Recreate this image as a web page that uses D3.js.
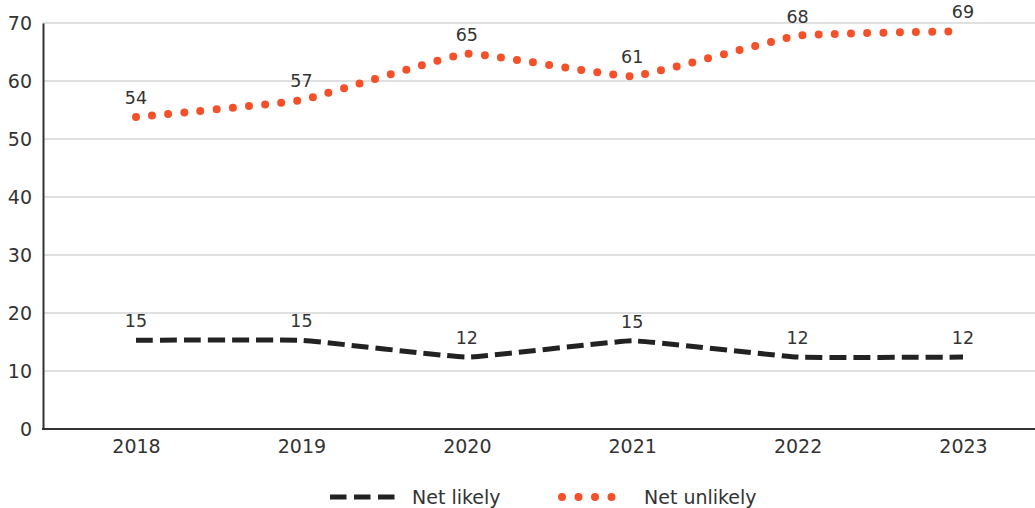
<!DOCTYPE html>
<html>
<head>
<meta charset="utf-8">
<script src="https://cdn.jsdelivr.net/npm/d3@7"></script>
<style>
  body { margin: 0; background: #fff; }
  text { font-family: "DejaVu Sans", sans-serif; fill: #333; }
</style>
</head>
<body>
<div id="chart"></div>
<script>
// data (labels show rounded values)
const years = ['2018', '2019', '2020', '2021', '2022', '2023'];
const netLikely = [15.3, 15.3, 12.4, 15.2, 12.4, 12.4];
const netUnlikely = [53.8, 56.7, 64.7, 60.8, 67.8, 68.6];
const yTicks = [0, 10, 20, 30, 40, 50, 60, 70];

const width = 1035;
const height = 508;

const svg = d3.select('#chart')
  .append('svg')
  .attr('width', width)
  .attr('height', height);

// scales
const xScale = d3.scalePoint().domain(years).range([136, 963]);
const yScale = d3.scaleLinear().domain([0, 70]).range([429, 23]);

// gridlines
svg.append('g')
  .selectAll('line')
  .data(yTicks.filter((d) => d > 0))
  .join('line')
  .attr('x1', 43)
  .attr('x2', width)
  .attr('y1', (d) => yScale(d))
  .attr('y2', (d) => yScale(d))
  .attr('stroke', '#d6d6d6')
  .attr('stroke-width', 1.5);

// axes
const yAxis = d3.axisLeft(yScale).tickValues(yTicks).tickSize(0).tickPadding(11);
const yAxisGroup = svg.append('g')
  .attr('transform', 'translate(43,0)')
  .call(yAxis);
yAxisGroup.select('.domain').attr('stroke', '#333').attr('stroke-width', 2);
yAxisGroup.selectAll('text').style('font-size', '19px').attr('fill', '#333');

const xAxis = d3.axisBottom(xScale).tickSize(0).tickPadding(11);
const xAxisGroup = svg.append('g')
  .attr('transform', `translate(0,${yScale(0)})`)
  .call(xAxis);
xAxisGroup.select('.domain').remove();
xAxisGroup.selectAll('text').style('font-size', '19px').attr('fill', '#333');
svg.selectAll('g[font-family]').attr('font-family', null);
svg.append('line')
  .attr('x1', 42).attr('x2', width)
  .attr('y1', yScale(0)).attr('y2', yScale(0))
  .attr('stroke', '#333').attr('stroke-width', 2);

// lines
const line = d3.line()
  .x((d, i) => xScale(years[i]))
  .y((d) => yScale(d))
  .curve(d3.curveCardinal.tension(0.72));

svg.append('path')
  .datum(netLikely)
  .attr('d', line)
  .attr('fill', 'none')
  .attr('stroke', '#222')
  .attr('stroke-width', 5)
  .attr('stroke-dasharray', '17 7');

svg.append('path')
  .datum(netUnlikely)
  .attr('d', line)
  .attr('fill', 'none')
  .attr('stroke', '#f4512b')
  .attr('stroke-width', 8)
  .attr('stroke-linecap', 'round')
  .attr('stroke-dasharray', '0 16.2');

// value labels
const fmt = d3.format('.0f');
const addLabels = (values) => {
  svg.append('g')
    .selectAll('text')
    .data(values)
    .join('text')
    .attr('x', (d, i) => xScale(years[i]))
    .attr('y', (d) => yScale(d) - 13)
    .attr('text-anchor', 'middle')
    .style('font-size', '17.5px')
    .text((d) => fmt(d));
};
addLabels(netLikely);
addLabels(netUnlikely);

// legend
const legend = svg.append('g').attr('transform', 'translate(0,497)');
legend.append('line')
  .attr('x1', 330).attr('x2', 395)
  .attr('stroke', '#222').attr('stroke-width', 5)
  .attr('stroke-dasharray', '16.5 7.5');
legend.append('text')
  .attr('x', 412).attr('y', 6.5)
  .style('font-size', '19px')
  .text('Net likely');
legend.append('line')
  .attr('x1', 562).attr('x2', 612)
  .attr('stroke', '#f4512b').attr('stroke-width', 8)
  .attr('stroke-linecap', 'round')
  .attr('stroke-dasharray', '0 16.5');
legend.append('text')
  .attr('x', 644).attr('y', 6.5)
  .style('font-size', '19px')
  .text('Net unlikely');
</script>
</body>
</html>
